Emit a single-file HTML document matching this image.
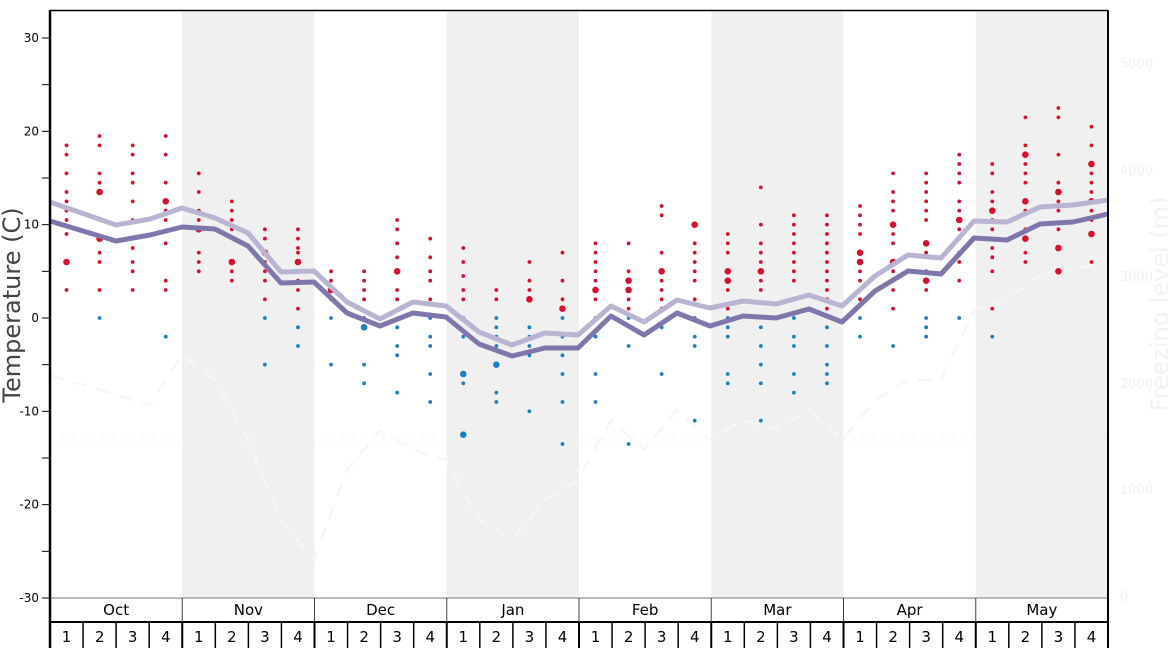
<!DOCTYPE html>
<html><head><meta charset="utf-8">
<style>
html,body{margin:0;padding:0;background:#fff;}
svg{display:block;font-family:"DejaVu Sans","Liberation Sans",sans-serif;}
</style></head>
<body>
<svg id="s" width="1168" height="648" viewBox="0 0 1168 648" xmlns="http://www.w3.org/2000/svg">
<rect x="0" y="0" width="1168" height="648" fill="#fff"/>
<g id="bands"></g>
<g id="faint" fill="none" stroke="#f6f6f6" stroke-width="2.5" stroke-dasharray="14,10">
<polyline points="50,375 116,395 150,405 182,355 215,380 248,440 281,520 314,560 347,470 380,430 413,450 446,460 479,520 512,540 545,500 578,480 611,420 644,450 677,410 710,440 743,420 776,430 809,410 842,440 875,400 908,380 941,380 974,310 1007,300 1040,275 1073,270 1108,260"/>
</g>
<line x1="50" y1="438" x2="1108" y2="438" stroke="#f4f4f4" stroke-width="1" stroke-dasharray="6,4"/>
<line x1="50" y1="443" x2="1108" y2="443" stroke="#f6f6f6" stroke-width="1" stroke-dasharray="2,3"/>
<g fill="#f0f0f0" font-size="13">
<text x="1120" y="68">5000</text><text x="1120" y="175">4000</text><text x="1120" y="281">3000</text>
<text x="1120" y="388">2000</text><text x="1120" y="494">1000</text><text x="1120" y="601">0</text>
<text x="1060" y="438" fill="#eeeeee">Bottom</text>
</g>
<text transform="translate(1168,304) rotate(-90)" text-anchor="middle" font-size="24" fill="#f2f2f2">Freezing level (m)</text>
<g id="dots"></g>
<polyline fill="none" stroke="#b8b4d2" stroke-width="5" stroke-linejoin="round" points="50,202 116,225 150,219 182,208 215,218 248,233 281,272 314,271 347,302 380,319 413,302 446,306 479,332 512,345 545,333 578,335 611,306 644,322 677,300 710,308 743,301 776,304 809,295 842,306 875,276 908,255 941,258 974,221 1007,222 1040,207 1073,205 1108,200"/>
<polyline fill="none" stroke="#7f77ab" stroke-width="5" stroke-linejoin="round" points="50,221 116,241 150,235 182,227 215,229 248,246 281,283 314,282 347,313 380,326 413,313 446,317 479,344 512,356 545,348 578,348 611,316 644,335 677,313 710,326 743,316 776,318 809,309 842,322 875,291 908,271 941,274 974,238 1007,240 1040,224 1073,222 1108,214"/>
<g id="axis"></g>
<text transform="translate(20,305) rotate(-90)" text-anchor="middle" font-size="24" fill="#444">Temperature (C)</text>
</svg>
<script>
var NS="http://www.w3.org/2000/svg";
function el(p,t,a,txt){var e=document.createElementNS(NS,t);for(var k in a)e.setAttribute(k,a[k]);if(txt!==undefined)e.textContent=txt;p.appendChild(e);return e;}
var L=50,R=1108,mw=(R-L)/8,ww=(R-L)/32;
function Y(t){return 318-t*9.333;}
var bands=document.getElementById('bands');
for(var m=1;m<8;m+=2)el(bands,'rect',{x:L+m*mw,y:10,width:mw,height:588,fill:'#f0f0f0'});
var D=[
[18.5,17.5,15.5,13.5,12.5,11.5,10.5,9,'6b',3],
[19.5,18.5,15.5,14.5,'13.5b',10.5,'8.5b',7,6,3,0],
[18.5,17.5,15.5,14.5,12.5,10.5,8.5,7.5,6,5,3],
[19.5,17.5,14.5,'12.5b',11.5,10.5,8,4,3,-2],
[15.5,13.5,11.5,10.5,'9.5b',7,6,5],
[12.5,11.5,10.5,9.5,'6b',5,4],
[9.5,8.5,'7b',6,5,4,2,0,-5],
[9.5,8.5,7.5,7,'6b',4,3,1,-1,-3],
[5,4,'3b',2,0,-5],
[5,4,3,2,0,'-1b',-5,-7],
[10.5,9.5,8,6.5,'5b',3,2,-1,-3,-4,-8],
[8.5,6.5,5,4,2,0,-2,-3,-6,-9],
[7.5,6,4.5,3,2,0,-2,'-6b',-7,'-12.5b'],
[3,2,0,-1,-2,-3,'-5b',-8,-9],
[6,4,3,'2b',-1,-2,-3,-4,-10],
[7,4,2,'1b',0,-2,-4,-6,-9,-13.5],
[8,7,6,5,4,'3b',2,0,-2,-6,-9],
[8,5,'4b','3b',2,1,0,-3,-13.5],
[12,11,7,'5b',4,3,2,1,-1,-6],
['10b',8,7,6,5,4,2,0,-2,-3,-11],
[9,8,7,'5b','4b',3,1,0,-1,-2,-6,-7],
[14,10,8,7,6,'5b',4,3,-1,-3,-5,-7,-11],
[11,10,9,8,7,6,5,4,2,0,-2,-3,-6,-8],
[11,10,9,8,7,6,5,4,3,2,1,-1,-3,-5,-6,-7],
[12,11,10,9,'7b','6b',5,4,2,0,-2],
[15.5,13.5,12.5,11.5,'10b',9,8,'6b',5,4,3,1,-3],
[15.5,14.5,13.5,12.5,11.5,10.5,'8b',7,5,'4b',3,0,-1,-2],
[17.5,16.5,15.5,14.5,12.5,11.5,'10.5b',9.5,8.5,7,6,4,0],
[16.5,15.5,13.5,12.5,'11.5b',10.5,9.5,8.5,7.5,6.5,5,1,-2],
[21.5,18.5,'17.5b',16.5,15.5,14.5,'12.5b',11.5,9.5,'8.5b',7,6],
[22.5,21.5,17.5,14.5,'13.5b',12.5,11.5,9.5,'7.5b','5b'],
[20.5,18.5,'16.5b',15.5,14.5,13.5,'12.5b',11.5,10.5,'9b',6]];
var dots=document.getElementById('dots');
D.forEach(function(w,i){var x=L+ww*(i+0.5);w.forEach(function(v){var s=String(v),b=s.indexOf('b')>=0,t=parseFloat(s);
el(dots,'circle',{cx:x,cy:Y(t),r:b?3.3:1.9,fill:t>0?'#d7102e':'#1a80c0'});});});
var ax=document.getElementById('axis');
for(var t=-30;t<=30;t+=5){var y=Y(t);el(ax,'line',{x1:42,x2:50,y1:y,y2:y,stroke:'#000','stroke-width':1});
if(t%10==0)el(ax,'text',{x:39,y:y+4,'text-anchor':'end','font-size':12,fill:'#000'},String(t));}
el(ax,'line',{x1:L,x2:R,y1:598,y2:598,stroke:'#777','stroke-width':1});
el(ax,'line',{x1:L,x2:R,y1:622,y2:622,stroke:'#000','stroke-width':2});
el(ax,'line',{x1:L,x2:R,y1:10.5,y2:10.5,stroke:'#000','stroke-width':1.5});
el(ax,'line',{x1:L,x2:L,y1:10,y2:648,stroke:'#000','stroke-width':2.5});
el(ax,'line',{x1:R,x2:R,y1:10,y2:648,stroke:'#000','stroke-width':2});
var M=['Oct','Nov','Dec','Jan','Feb','Mar','Apr','May'];
for(var m=0;m<8;m++){var x0=L+m*mw;if(m>0)el(ax,'line',{x1:x0,x2:x0,y1:598,y2:622,stroke:'#444','stroke-width':1});
el(ax,'text',{x:x0+mw/2,y:615,'text-anchor':'middle','font-size':15,fill:'#000'},M[m]);}
for(var i=0;i<32;i++){var x0=L+i*ww;if(i>0)el(ax,'line',{x1:x0,x2:x0,y1:622,y2:648,stroke:'#000','stroke-width':(i%4==0)?2:1.5});
el(ax,'text',{x:x0+ww/2,y:642,'text-anchor':'middle','font-size':15,fill:'#000'},String(i%4+1));}
</script>
</body></html>
